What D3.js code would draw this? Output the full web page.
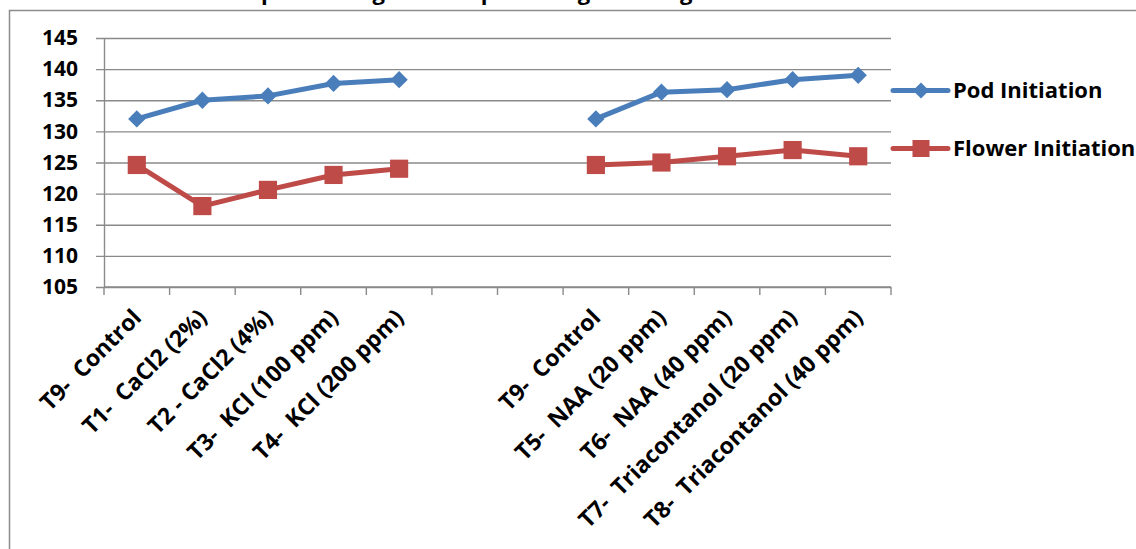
<!DOCTYPE html>
<html>
<head>
<meta charset="utf-8">
<script src="https://cdn.jsdelivr.net/npm/d3@7"></script>
<style>
  html, body { margin: 0; padding: 0; background: #ffffff; overflow: hidden; }
  svg { display: block; font-family: "Open Sans", Lato, sans-serif; font-weight: bold; }
</style>
</head>
<body>
<svg id="chart" width="1136" height="549"></svg>
<script>
// Treatments along the x axis; two empty slots separate the two treatment groups
const categories = [
  "T9-  Control", "T1-  CaCl2 (2%)", "T2 - CaCl2 (4%)", "T3-  KCl (100 ppm)", "T4-  KCl (200 ppm)",
  "", "",
  "T9-  Control", "T5-  NAA (20 ppm)", "T6-  NAA (40 ppm)", "T7-  Triacontanol (20 ppm)", "T8-  Triacontanol (40 ppm)"
];
const podInitiation    = [132.0, 135.0, 135.7, 137.7, 138.3, null, null, 132.0, 136.3, 136.7, 138.3, 139.0];
const flowerInitiation = [124.6, 118.0, 120.6, 123.0, 124.0, null, null, 124.6, 125.0, 126.0, 127.0, 126.0];
const yTickValues = [105, 110, 115, 120, 125, 130, 135, 140, 145];
const seriesNames = ["Pod Initiation", "Flower Initiation"];
const titleText = "Time to pod setting and the pod filling in local groundnut";

const svg = d3.select("#chart");

// Outer chart frame (runs past the right and bottom edges)
svg.append("rect")
  .attr("x", 9.5).attr("y", 10.5)
  .attr("width", 1200).attr("height", 600)
  .attr("fill", "none").attr("stroke", "#8c8c8c").attr("stroke-width", 1.5);

// Title sits above the frame, only its lowest strokes fall inside the page
const title = svg.append("text")
  .attr("x", 0).attr("y", 0)
  .attr("font-size", 22)
  .attr("fill", "#000")
  .style("white-space", "pre")
  .text(titleText);
// line the first "pod" up over the left half of the plot
const firstP = titleText.indexOf("pod");
const px = title.node().getStartPositionOfChar(firstP).x;
title.attr("x", 261 - px);

const plot = { left: 104, right: 891, top: 38, bottom: 287 };

const x = d3.scaleBand()
  .domain(d3.range(categories.length))
  .range([plot.left, plot.right])
  .padding(0);

const y = d3.scaleLinear()
  .domain([105, 145])
  .range([plot.bottom, plot.top]);

// Horizontal gridlines and y labels
const yAxis = d3.axisLeft(y)
  .tickValues(yTickValues)
  .tickSizeInner(-(plot.right - plot.left))
  .tickSizeOuter(0)
  .tickPadding(26);

const gy = svg.append("g")
  .attr("transform", `translate(${plot.left},0)`)
  .call(yAxis);
gy.select(".domain").attr("stroke", "#8a8a8a").attr("stroke-width", 1.4);
gy.selectAll(".tick line")
  .attr("x1", -8)
  .attr("stroke", "#8a8a8a").attr("stroke-width", 1.4);
gy.selectAll(".tick text")
  .attr("font-size", 21).attr("font-weight", "bold")
  .attr("font-family", "'Open Sans', sans-serif")
  .attr("fill", "#000");

// Bottom axis line with tick marks between categories
const boundaries = d3.range(categories.length + 1).map(i =>
  i < categories.length ? x(i) : x(categories.length - 1) + x.bandwidth());

const gx = svg.append("g");
gx.append("line")
  .attr("x1", plot.left).attr("x2", plot.right)
  .attr("y1", plot.bottom).attr("y2", plot.bottom)
  .attr("stroke", "#8a8a8a").attr("stroke-width", 1.4);
gx.selectAll("line.tk").data(boundaries).join("line")
  .attr("class", "tk")
  .attr("x1", d => d).attr("x2", d => d)
  .attr("y1", plot.bottom).attr("y2", plot.bottom + 8)
  .attr("stroke", "#8a8a8a").attr("stroke-width", 1.4);

// Rotated category labels
gx.selectAll("text.cat").data(categories.map((c, i) => ({ c, i })).filter(d => d.c !== ""))
  .join("text")
  .attr("class", "cat")
  .attr("transform", d => `translate(${x(d.i) + x.bandwidth() / 2 + 6},${plot.bottom + 32}) rotate(-45)`)
  .attr("text-anchor", "end")
  .attr("font-size", 23)
  .attr("fill", "#000")
  .style("white-space", "pre")
  .text(d => d.c);

// Series
const series = [
  { name: seriesNames[0], values: podInitiation, color: "#4a7ebb", marker: "diamond" },
  { name: seriesNames[1], values: flowerInitiation, color: "#be4b48", marker: "square" }
];

const line = d3.line()
  .defined(d => d.v !== null)
  .x(d => x(d.i) + x.bandwidth() / 2)
  .y(d => y(d.v));

const diamond = d3.symbol().type(d3.symbolSquare).size(150);
const square = d3.symbol().type(d3.symbolSquare).size(330);

series.forEach(s => {
  const pts = s.values.map((v, i) => ({ v, i }));
  svg.append("path")
    .datum(pts)
    .attr("d", line)
    .attr("fill", "none")
    .attr("stroke", s.color)
    .attr("stroke-width", 5)
    .attr("stroke-linejoin", "round")
    .attr("stroke-linecap", "round");
  svg.append("g").selectAll("path")
    .data(pts.filter(d => d.v !== null))
    .join("path")
    .attr("transform", d => `translate(${x(d.i) + x.bandwidth() / 2},${y(d.v)})` + (s.marker === "diamond" ? " rotate(45)" : ""))
    .attr("d", s.marker === "diamond" ? diamond : square)
    .attr("fill", s.color);
});

// Legend
const legend = svg.append("g");
series.forEach((s, k) => {
  const ly = 90.5 + k * 58;
  legend.append("line")
    .attr("x1", 893).attr("x2", 948)
    .attr("y1", ly).attr("y2", ly)
    .attr("stroke", s.color).attr("stroke-width", 5)
    .attr("stroke-linecap", "round");
  legend.append("path")
    .attr("transform", `translate(921,${ly})` + (s.marker === "diamond" ? " rotate(45)" : ""))
    .attr("d", s.marker === "diamond" ? d3.symbol().type(d3.symbolSquare).size(130)() : d3.symbol().type(d3.symbolSquare).size(290)())
    .attr("fill", s.color);
  legend.append("text")
    .attr("x", 953).attr("y", ly)
    .attr("dy", "0.35em")
    .attr("font-size", 22)
    .attr("fill", "#000")
    .text(s.name);
});
</script>
</body>
</html>
